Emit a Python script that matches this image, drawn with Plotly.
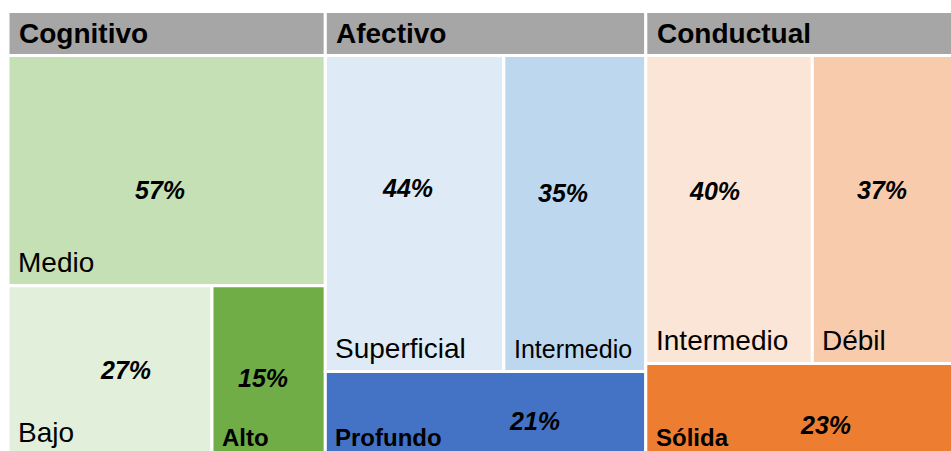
import plotly.graph_objects as go

# datos del treemap
groups = ["Cognitivo", "Afectivo", "Conductual"]
cognitivo_labels = ["Medio", "Bajo", "Alto"]
cognitivo_values = [57, 27, 15]
afectivo_labels = ["Superficial", "Intermedio", "Profundo"]
afectivo_values = [44, 35, 21]
conductual_labels = ["Intermedio", "Débil", "Sólida"]
conductual_values = [40, 37, 23]

labels = [cognitivo_labels, afectivo_labels, conductual_labels]
values = [cognitivo_values, afectivo_values, conductual_values]
top_row = [1, 2, 2]  # cuantas celdas van en la fila de arriba

# estilos
colors = [
    ["#C5E0B4", "#E2EFDA", "#70AD47"],
    ["#DEEBF7", "#BDD7EE", "#4472C4"],
    ["#FBE5D6", "#F8CBAD", "#ED7D31"],
]
label_bold = [[False, False, True], [False, False, True], [False, False, True]]
label_size = [[28, 28, 24], [28, 25, 24], [28, 28, 24]]
pct_pos = [
    [(0.479, 0.414), (0.574, 0.502), (0.45, 0.455)],
    [(0.463, 0.581), (0.417, 0.565), (0.654, 0.41)],
    [(0.41, 0.56), (0.453, 0.563), (0.562, 0.33)],
]
font = "Liberation Sans, Arial, sans-serif"
W, H = 951, 451
px_x = 3.205   # pixeles por unidad x
px_y = 400.0   # pixeles por unidad y
header_h = 44 / px_y

fig = go.Figure()
shapes = []
annotations = []

gx = 0
for g, name in enumerate(groups):
    vals = values[g]
    total = sum(vals)
    rows = [list(range(top_row[g])), list(range(top_row[g], len(vals)))]
    # encabezado
    shapes.append(dict(type="rect", xref="x", yref="y", x0=gx, x1=gx + total,
                       y0=1, y1=1 + header_h, fillcolor="#A6A6A6",
                       line=dict(color="white", width=3)))
    annotations.append(dict(x=gx + 9 / px_x, y=1 + header_h / 2, text="<b>%s</b>" % name,
                            xanchor="left", yanchor="middle", showarrow=False,
                            font=dict(family=font, size=28, color="black")))
    ytop = 1
    for row in rows:
        rsum = sum(vals[i] for i in row)
        h = rsum / total
        y0, y1 = ytop - h, ytop
        cx = gx
        for i in row:
            w = vals[i] / rsum * total
            x0, x1 = cx, cx + w
            shapes.append(dict(type="rect", xref="x", yref="y", x0=x0, x1=x1, y0=y0, y1=y1,
                               fillcolor=colors[g][i], line=dict(color="white", width=3)))
            txt = labels[g][i]
            if label_bold[g][i]:
                txt = "<b>%s</b>" % txt
                dy = 18.5 / px_y
            else:
                dy = 23 / px_y
            annotations.append(dict(x=x0 + 8 / px_x, y=y0 + dy, text=txt,
                                    xanchor="left", yanchor="middle", showarrow=False,
                                    font=dict(family=font, size=label_size[g][i], color="black")))
            fx, fy = pct_pos[g][i]
            annotations.append(dict(x=x0 + fx * w, y=y0 + fy * h,
                                    text="<b><i>%d%%</i></b>" % vals[i],
                                    xanchor="center", yanchor="middle", showarrow=False,
                                    font=dict(family=font, size=25, color="black")))
            cx = x1
        ytop = y0
    gx += total

fig.update_layout(
    width=W, height=H,
    margin=dict(l=0, r=0, t=0, b=0),
    paper_bgcolor="white", plot_bgcolor="white",
    xaxis=dict(range=[-8 / px_x, (W - 8) / px_x], visible=False, fixedrange=True),
    yaxis=dict(range=[4.5 / px_y, 1 + 55.5 / px_y], visible=False, fixedrange=True),
    shapes=shapes, annotations=annotations, showlegend=False,
)
fig.write_html("out.html", config={"displayModeBar": False},
               post_script="document.body.style.margin='0';document.body.style.overflow='hidden';")
